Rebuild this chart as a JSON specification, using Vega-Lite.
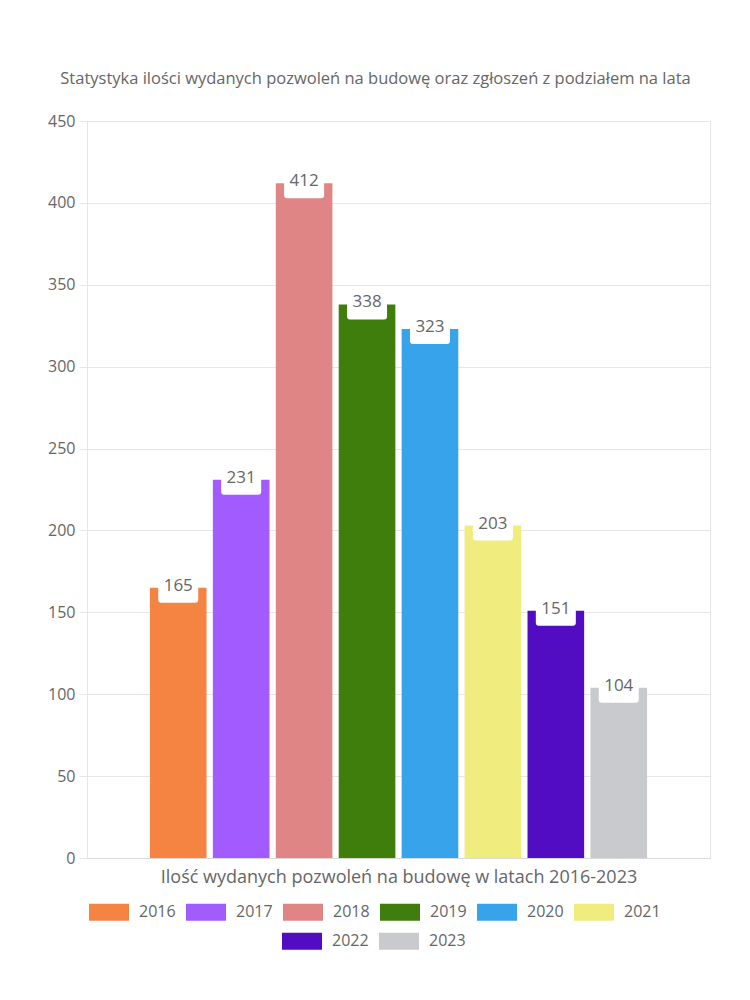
{
  "$schema": "https://vega.github.io/schema/vega-lite/v6.json",
  "width": 623,
  "height": 737,
  "autosize": {"type": "none"},
  "padding": {"left": 87, "top": 121, "right": 40, "bottom": 142},
  "background": "white",
  "title": {
    "text": "Statystyka ilości wydanych pozwoleń na budowę oraz zgłoszeń z podziałem na lata",
    "font": "Open Sans",
    "fontSize": 16.5,
    "fontWeight": "normal",
    "color": "#666666",
    "anchor": "middle",
    "dx": -23,
    "offset": 26
  },
  "data": {
    "values": [
      {"year": 2016, "value": 165},
      {"year": 2017, "value": 231},
      {"year": 2018, "value": 412},
      {"year": 2019, "value": 338},
      {"year": 2020, "value": 323},
      {"year": 2021, "value": 203},
      {"year": 2022, "value": 151},
      {"year": 2023, "value": 104}
    ]
  },
  "encoding": {
    "x": {
      "field": "year",
      "type": "nominal",
      "sort": "ascending",
      "scale": {"paddingInner": 0.1, "paddingOuter": 1.1},
      "axis": {
        "labels": false,
        "ticks": false,
        "domain": true,
        "domainColor": "#d9d9d9",
        "title": "Ilość wydanych pozwoleń na budowę w latach 2016-2023",
        "titleFont": "Open Sans",
        "titleFontSize": 18,
        "titleFontWeight": "normal",
        "titleColor": "#666666",
        "titlePadding": 10
      }
    },
    "y": {
      "field": "value",
      "type": "quantitative",
      "scale": {"domain": [0, 450], "nice": false},
      "axis": {
        "values": [0, 50, 100, 150, 200, 250, 300, 350, 400, 450],
        "title": null,
        "domain": false,
        "grid": true,
        "gridColor": "#e6e6e6",
        "tickColor": "#e6e6e6",
        "tickSize": 8,
        "labelFont": "Open Sans",
        "labelFontSize": 16,
        "labelColor": "#666666",
        "labelPadding": 4
      }
    }
  },
  "layer": [
    {
      "transform": [{"filter": "datum.year <= 2021"}],
      "mark": {"type": "bar"},
      "encoding": {
        "color": {
          "field": "year",
          "type": "nominal",
          "scale": {
            "domain": [2016, 2017, 2018, 2019, 2020, 2021],
            "range": ["#f58442", "#a25bfe", "#e08585", "#3f7e0c", "#37a3ea", "#f0ec7e"]
          },
          "legend": {
            "orient": "none",
            "legendX": 2,
            "legendY": 771,
            "direction": "horizontal",
            "columns": 6,
            "title": null,
            "padding": 0,
            "symbolType": "M-1,-0.425H1V0.425H-1Z",
            "symbolSize": 1600,
            "symbolStrokeWidth": 0,
            "symbolOpacity": 1,
            "labelFont": "Open Sans",
            "labelFontSize": 16,
            "labelColor": "#666666",
            "labelOffset": 10,
            "columnPadding": 10
          }
        }
      }
    },
    {
      "transform": [{"filter": "datum.year >= 2022"}],
      "mark": {"type": "bar"},
      "encoding": {
        "color": {
          "field": "year",
          "type": "nominal",
          "scale": {
            "domain": [2022, 2023],
            "range": ["#520dc2", "#c9cacd"]
          },
          "legend": {
            "orient": "none",
            "legendX": 195,
            "legendY": 800,
            "direction": "horizontal",
            "columns": 2,
            "title": null,
            "padding": 0,
            "symbolType": "M-1,-0.425H1V0.425H-1Z",
            "symbolSize": 1600,
            "symbolStrokeWidth": 0,
            "symbolOpacity": 1,
            "labelFont": "Open Sans",
            "labelFontSize": 16,
            "labelColor": "#666666",
            "labelOffset": 10,
            "columnPadding": 10
          }
        }
      }
    },
    {
      "mark": {
        "type": "point",
        "shape": "M-0.85,-0.55L0.85,-0.55Q1,-0.55,1,-0.4L1,0.4Q1,0.55,0.85,0.55L-0.85,0.55Q-1,0.55,-1,0.4L-1,-0.4Q-1,-0.55,-0.85,-0.55Z",
        "size": 1600,
        "filled": true,
        "fill": "white",
        "opacity": 1,
        "strokeWidth": 0,
        "yOffset": 4
      },
      "encoding": {}
    },
    {
      "mark": {
        "type": "text",
        "font": "Open Sans",
        "fontSize": 17,
        "color": "#666666",
        "baseline": "middle",
        "dy": -2
      },
      "encoding": {"text": {"field": "value", "type": "quantitative"}}
    }
  ],
  "resolve": {"scale": {"color": "independent"}, "legend": {"color": "independent"}},
  "config": {
    "view": {"stroke": "#e6e6e6"},
    "axis": {"labelFont": "Open Sans", "titleFont": "Open Sans"}
  }
}
